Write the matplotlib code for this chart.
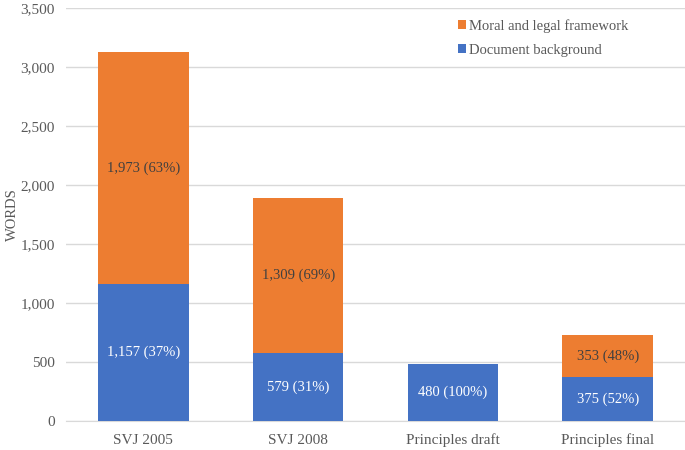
import matplotlib
matplotlib.use("Agg")
import matplotlib.pyplot as plt
from matplotlib.ticker import FuncFormatter

plt.rcParams['font.family'] = ['Liberation Serif', 'DejaVu Serif']

categories = ["SVJ 2005", "SVJ 2008", "Principles draft", "Principles final"]
background = [1157, 579, 480, 375]
framework = [1973, 1309, 0, 353]
background_labels = ["1,157 (37%)", "579 (31%)", "480 (100%)", "375 (52%)"]
framework_labels = ["1,973 (63%)", "1,309 (69%)", "", "353 (48%)"]

blue = "#4472C4"
orange = "#ED7D31"
text_grey = "#595959"

fig = plt.figure(figsize=(6.85, 4.5), dpi=100)
ax = fig.add_axes([0.0964, 0.0644, 0.9036, 0.9178])

x = range(len(categories))
width = 0.585
b1 = ax.bar(x, background, width, color=blue, label="Document background", zorder=3)
b2 = ax.bar(x, framework, width, bottom=background, color=orange,
            label="Moral and legal framework", zorder=3)

ax.bar_label(b1, labels=background_labels, label_type="center", color="white", fontsize=10.5)
ax.bar_label(b2, labels=framework_labels, label_type="center", color="#404040", fontsize=10.5)

ax.set_xlim(-0.5, len(categories) - 0.5)
ax.set_ylim(0, 3500)
ax.set_yticks(range(0, 3501, 500))
ax.yaxis.set_major_formatter(FuncFormatter(lambda v, p: f"{int(v):,}"))
ax.set_xticks(list(x))
ax.set_xticklabels(categories)
ax.tick_params(axis="both", length=0, labelsize=11, labelcolor=text_grey)
ax.tick_params(axis="x", pad=9)
ax.tick_params(axis="y", pad=8)

ax.grid(axis="y", color="#D9D9D9", linewidth=1, zorder=0)
for s in ["top", "right", "left"]:
    ax.spines[s].set_visible(False)
ax.spines["bottom"].set_color("#D9D9D9")

ax.set_ylabel("WORDS", color=text_grey, fontsize=10.5)
ax.yaxis.set_label_coords(-0.076, 0.5)

handles, labels = ax.get_legend_handles_labels()
ax.legend(handles[::-1], labels[::-1], loc="upper right", bbox_to_anchor=(0.93, 1.005),
          frameon=False, fontsize=10.5, handlelength=0.6, handleheight=0.6,
          handletextpad=0.2, labelcolor=text_grey, labelspacing=0.75)

fig.savefig("out.png", dpi=100)
